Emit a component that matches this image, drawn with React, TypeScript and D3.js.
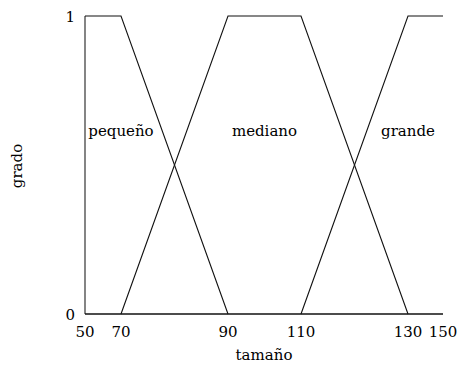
import React from "react";
import * as d3 from "d3";

// Membership functions for "tamaño"
const xTicks = [50, 70, 90, 110, 130, 150];
const yTicks = [0, 1];
const pequenoX = [50, 70, 90];
const pequenoY = [1, 1, 0];
const medianoX = [70, 90, 110, 130];
const medianoY = [0, 1, 1, 0];
const grandeX = [110, 130, 150];
const grandeY = [0, 1, 1];
const setNames = ["pequeño", "mediano", "grande"];
const nameX = [70, 100, 130];
const nameY = [0.6, 0.6, 0.6];

const W = 458;
const H = 365;
const FONT = "'DejaVu Serif', serif";

export default function App() {
  // piecewise-linear x scale, as laid out on the axis
  const x = d3
    .scaleLinear()
    .domain(xTicks)
    .range([85, 121, 228, 301, 408, 443]);
  const y = d3.scaleLinear().domain([0, 1]).range([314, 16]);

  const line = d3
    .line<[number, number]>()
    .x((d) => x(d[0]))
    .y((d) => y(d[1]));

  const sets: [number[], number[]][] = [
    [pequenoX, pequenoY],
    [medianoX, medianoY],
    [grandeX, grandeY],
  ];

  return (
    <svg
      width={W}
      height={H}
      style={{ position: "absolute", left: 0, top: 0 }}
      fontFamily={FONT}
    >
      {/* axes */}
      <line x1={x(50)} x2={x(50)} y1={y(0)} y2={y(1)} stroke="#333" strokeWidth={1.2} />
      <line x1={x(50)} x2={x(150)} y1={y(0)} y2={y(0)} stroke="#111" strokeWidth={1.4} />

      {sets.map(([xs, ys], i) => (
        <path
          key={i}
          d={line(xs.map((v, j) => [v, ys[j]] as [number, number])) || ""}
          fill="none"
          stroke="#111"
          strokeWidth={1.1}
        />
      ))}

      {xTicks.map((t) => (
        <text key={t} x={x(t)} y={337} textAnchor="middle" fontSize={15}>
          {t}
        </text>
      ))}
      {yTicks.map((t) => (
        <text key={t} x={75} y={y(t) + 5.5} textAnchor="end" fontSize={15}>
          {t}
        </text>
      ))}

      {setNames.map((n, i) => (
        <text
          key={n}
          x={x(nameX[i])}
          y={y(nameY[i]) + 1}
          textAnchor="middle"
          fontSize={15}
        >
          {n}
        </text>
      ))}

      <text x={264} y={360} textAnchor="middle" fontSize={15}>
        tamaño
      </text>
      <text
        transform="translate(22,166) rotate(-90)"
        textAnchor="middle"
        fontSize={15}
      >
        grado
      </text>
    </svg>
  );
}
